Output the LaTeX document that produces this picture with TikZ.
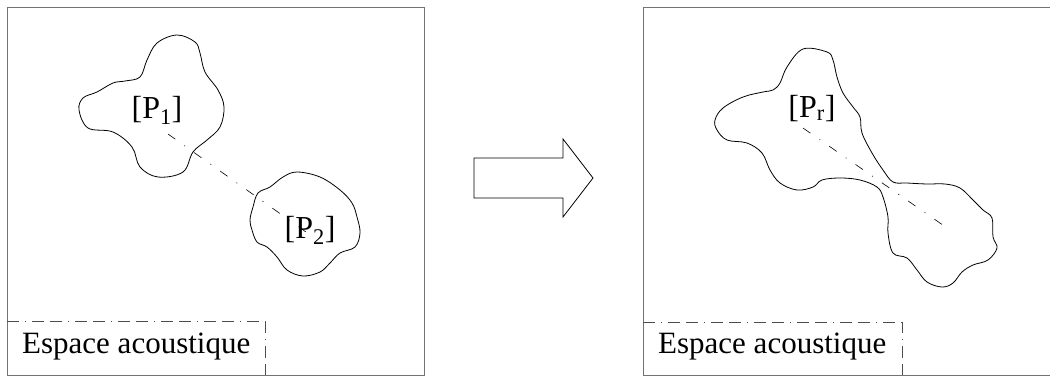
\documentclass[tikz,border=0pt]{standalone}
\usepackage{amsmath}
\usepackage{fontspec}
\setmainfont{Liberation Serif}
\usepackage{tikz}
\usetikzlibrary{positioning}
\tikzstyle{cadre}=[draw=black!55,line width=1pt]
\tikzstyle{zone}=[draw=black!70,line width=0.8pt,dash pattern=on 12pt off 6pt on 1pt off 6pt on 12pt off 6pt]
\tikzstyle{nuage}=[draw,line width=0.8pt]
\tikzstyle{axe}=[line width=0.6pt,dash pattern=on 9pt off 11pt on 1pt off 11pt]
\tikzstyle{etiq}=[inner sep=0pt,font=\fontsize{32}{38}\selectfont]
\tikzstyle{legende}=[inner sep=0pt,anchor=base west,font=\fontsize{31}{36}\selectfont]

\begin{document}
\begin{tikzpicture}[x=1pt,y=-1pt]
\useasboundingbox (0,0) rectangle (1050,376);
% espace de gauche
\draw[cadre] (7,7) rectangle (424,375);
\draw[zone] (7,321) -- (265,321) -- (265,375);
\node[legende] (esp1) at (22,353) {Espace acoustique};
\draw[nuage] plot[smooth cycle,tension=0.6] coordinates {
  (83,98) (79,110) (88,128) (113,132) (132,147) (140,167) (158,177)
  (183,172) (193,152) (207,140) (220,127) (224,107) (218,90) (205,72)
  (200,53) (195,42) (177,35) (157,43) (147,60) (140,77) (125,81)
  (113,83) (97,92)};
\draw[nuage] plot[smooth cycle,tension=0.6] coordinates {
  (297,172) (320,177) (340,190) (352,203) (357,217) (360,233) (355,247)
  (340,253) (330,263) (320,272) (303,276) (287,270) (277,257) (267,247)
  (257,242) (252,230) (250,220) (253,207) (258,193) (270,187) (283,177)};
\node[etiq,anchor=base] (p1) at (157,118) {[P$_{\text{1}}$]};
\node[etiq,anchor=base] (p2) at (310,238) {[P$_{\text{2}}$]};
\coordinate (c1) at (168,134);
\coordinate (c2) at (313,237);
\draw[axe] (c1) -- (c2);
% fleche
\draw[line width=0.8pt] (474,158) -- (563,158) -- (563,139) -- (593,178)
  -- (563,217) -- (563,198) -- (474,198) -- cycle;
% espace de droite
\draw[cadre] (1050,7) -| (643,375) -- (1050,375);
\draw[zone] (643,322) -- (902,322) -- (902,375);
\node[legende] (esp2) at (658,353) {Espace acoustique};
\draw[nuage] plot[smooth cycle,tension=0.6] coordinates {
  (803,49) (787,67) (780,83) (773,90) (763,92) (743,97) (723,108)
  (715,120) (717,130) (727,140) (747,143) (762,153) (770,170) (780,183)
  (797,190) (813,187) (822,180) (840,178) (860,180) (877,187) (883,197)
  (888,217) (888,233) (893,253) (907,258) (917,270) (927,282) (942,287)
  (953,283) (962,272) (973,265) (988,260) (997,248) (993,237) (992,218)
  (983,210) (973,200) (960,188) (945,184) (927,184) (907,183) (893,182)
  (883,170) (872,153) (862,133) (860,117) (853,107) (843,93) (837,77)
  (833,60) (827,52)};
\node[etiq,anchor=base] (pr) at (812,117) {[P$_{\text{r}}$]};
\coordinate (c3) at (803,128);
\coordinate (c4) at (950,230);
\draw[axe] (c3) -- (c4);
\end{tikzpicture}
\end{document}
